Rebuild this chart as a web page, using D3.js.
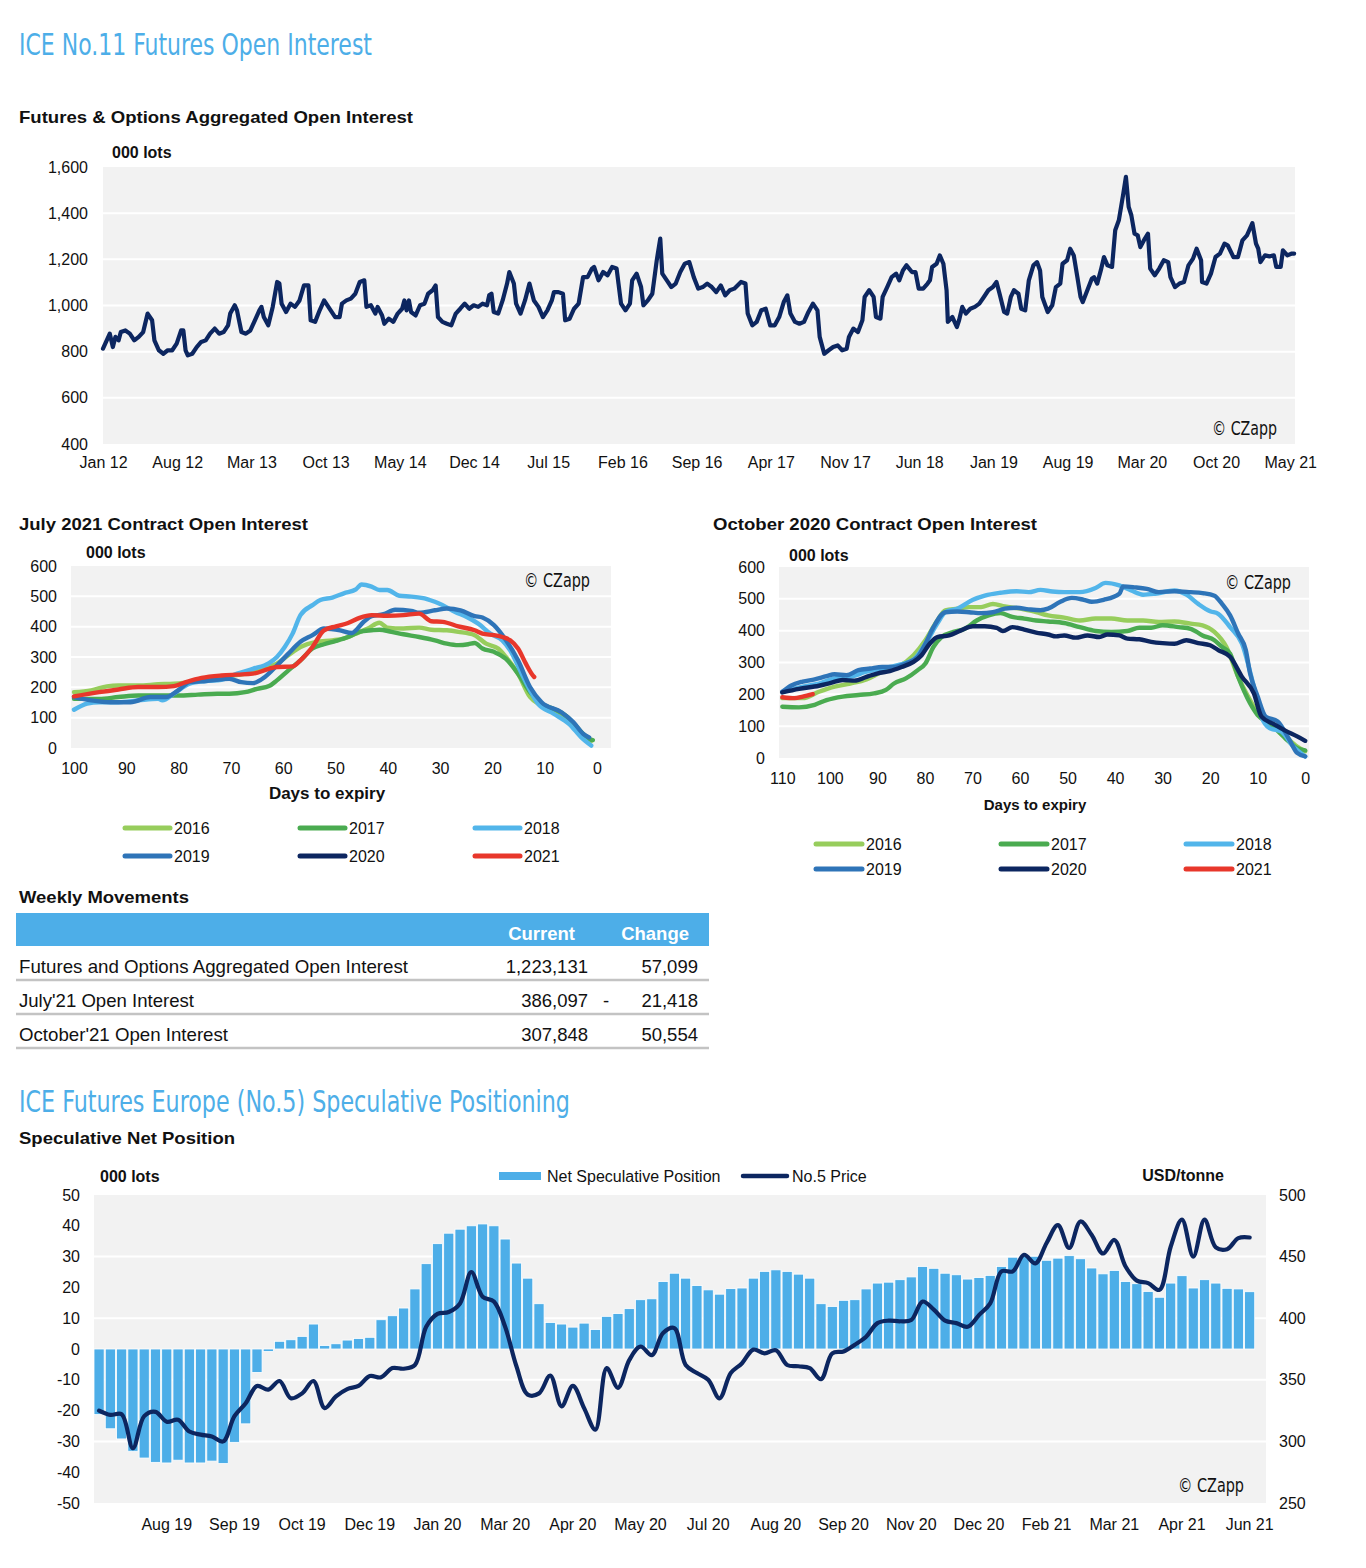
<!DOCTYPE html>
<html>
<head>
<meta charset="utf-8">
<script src="https://cdn.jsdelivr.net/npm/d3@7/dist/d3.min.js"></script>
<style>
html,body{margin:0;padding:0;background:#fff;}
</style>
</head>
<body>
<svg id="chart" width="1366" height="1568" xmlns="http://www.w3.org/2000/svg"></svg>
<script>
// ======================= DATA =======================
// --- Futures & Options Aggregated Open Interest (x = months since Jan 2012, y = 000 lots)
const oiTickMonths = [0,7,14,21,28,35,42,49,56,63,70,77,84,91,98,105,112];
const oiTickLabels = ["Jan 12","Aug 12","Mar 13","Oct 13","May 14","Dec 14","Jul 15","Feb 16","Sep 16","Apr 17","Nov 17","Jun 18","Jan 19","Aug 19","Mar 20","Oct 20","May 21"];
const oiYTicks = [400,600,800,1000,1200,1400,1600];
const oiSeries = [
[0,813],[0.64,878],[0.93,820],[1.17,864],[1.47,849],[1.68,885],[2.11,892],[2.53,878],[2.95,849],[3.37,864],[3.79,885],[4.21,965],[4.63,936],[4.85,849],[5.27,806],[5.69,791],[6.11,806],[6.53,806],[6.95,835],[7.37,892],[7.58,892],[7.79,806],[8.0,784],[8.42,791],[8.84,820],[9.26,842],[9.69,849],[10.1,878],[10.54,900],[10.96,878],[11.38,885],[11.8,914],[12.0,965],[12.43,1001],[12.64,979],[13.06,885],[13.48,878],[13.9,892],[14.33,936],[14.75,979],[14.95,994],[15.17,950],[15.59,914],[16.01,994],[16.43,1102],[16.64,1095],[16.85,1008],[17.27,972],[17.69,1008],[18.11,994],[18.54,1022],[18.96,1087],[19.38,1087],[19.59,936],[20.01,929],[20.44,979],[20.86,1022],[21.48,979],[21.9,950],[22.32,950],[22.54,1008],[22.96,1022],[23.38,1030],[23.8,1051],[24.22,1102],[24.65,1109],[24.85,994],[25.27,1001],[25.69,965],[25.91,994],[26.33,957],[26.54,921],[26.96,943],[27.38,929],[27.8,965],[28.22,986],[28.43,1022],[28.64,979],[28.86,1022],[29.06,972],[29.49,957],[29.91,1001],[30.33,1008],[30.67,1051],[31.09,1066],[31.38,1087],[31.6,950],[32.02,929],[32.44,921],[32.86,914],[33.28,965],[33.7,986],[34.12,1008],[34.54,986],[34.97,1001],[35.39,994],[35.81,1008],[36.23,1001],[36.43,1044],[36.65,1051],[36.86,972],[37.28,965],[37.7,1022],[38.12,1095],[38.33,1145],[38.76,1095],[38.97,1008],[39.39,965],[39.81,1022],[40.23,1095],[40.65,1022],[41.08,994],[41.5,950],[41.92,979],[42.34,1022],[42.54,1058],[42.97,1058],[43.39,1051],[43.6,936],[44.02,943],[44.44,986],[44.87,1008],[45.29,1123],[45.71,1123],[46.13,1160],[46.33,1167],[46.75,1109],[47.18,1145],[47.6,1131],[48.03,1167],[48.45,1160],[48.87,1008],[49.29,979],[49.71,1008],[49.92,1109],[50.34,1138],[50.76,1080],[50.98,1001],[51.4,1022],[51.82,1051],[52.24,1196],[52.57,1290],
[52.76,1138],[53.19,1109],[53.61,1080],[54.03,1095],[54.46,1145],[54.88,1181],[55.31,1188],[55.73,1123],[56.16,1073],[56.58,1080],[57.0,1095],[57.43,1080],[57.85,1058],[58.28,1087],[58.7,1044],[59.13,1066],[59.55,1073],[60.19,1102],[60.61,1095],[60.82,965],[61.25,914],[61.67,929],[62.1,979],[62.52,986],[62.94,914],[63.37,914],[63.79,950],[64.22,1015],[64.56,1044],[64.85,965],[65.28,929],[65.7,921],[66.13,929],[66.55,972],[66.97,1008],[67.4,979],[67.61,864],[68.04,791],[68.46,806],[68.88,820],[69.31,827],[69.73,806],[70.16,813],[70.37,864],[70.79,900],[71.22,885],[71.64,936],[71.85,1037],[72.28,1066],[72.7,1037],[72.92,950],[73.34,943],[73.55,1037],[73.98,1080],[74.4,1123],[74.82,1138],[75.12,1109],[75.46,1152],[75.8,1174],[76.31,1145],[76.65,1145],[76.95,1073],[77.37,1073],[77.79,1095],[78.01,1109],[78.22,1167],[78.64,1181],[78.94,1217],[79.28,1181],[79.58,1066],[79.7,929],[80.13,950],[80.55,907],[80.76,936],[81.06,994],[81.4,965],[81.82,986],[82.25,994],[82.67,1008],[83.1,1037],[83.52,1066],[83.95,1080],[84.29,1102],[84.58,1051],[85.01,972],[85.3,965],[85.64,1037],[85.94,1066],[86.36,1051],[86.62,986],[87.0,979],[87.34,1109],[87.77,1174],[88.11,1188],[88.4,1152],[88.61,1037],[89.12,972],[89.55,1001],[89.89,1080],[90.31,1095],[90.52,1181],[90.95,1196],[91.24,1246],[91.58,1217],[91.92,1123],[92.22,1037],[92.43,1015],[92.86,1066],[93.28,1116],[93.49,1123],[93.79,1095],[94.13,1152],[94.43,1210],[94.76,1174],[95.19,1167],[95.49,1326],[95.83,1369],[96.25,1484],[96.5,1557],[96.76,1427],[97.01,1391],[97.31,1311],[97.61,1304],[97.86,1253],[98.29,1290],[98.58,1311],[98.79,1160],[99.22,1131],[99.64,1160],[100.07,1196],[100.49,1188],[100.7,1123],[101.13,1080],[101.55,1095],[101.98,1102],[102.4,1174],[102.83,1203],[103.17,1246],[103.59,1196],[103.68,1102],[104.1,1095],[104.52,1138],[104.95,1210],[105.37,1225],[105.8,1268],[106.1,1261],[106.64,1210],[107.07,1210],[107.49,1282],[107.92,1304],[108.13,1326],[108.43,1357],[108.77,1268],[108.98,1246],[109.19,1188],[109.62,1217],[110.04,1213],[110.46,1217],[110.68,1167],[111.1,1167],[111.31,1239],[111.73,1217],[112.16,1225],[112.37,1225]
];

// --- Contract open interest by days to expiry ([days, 000 lots])
const years = ["2016","2017","2018","2019","2020","2021"];
const expiryYTicks = [0,100,200,300,400,500,600];
const julyXTicks = [100,90,80,70,60,50,40,30,20,10,0];
const octXTicks = [110,100,90,80,70,60,50,40,30,20,10,0];

const jul2016 = [[100,184],[96.7,190],[93.7,203],[91.5,206],[87.7,206],[83.9,210],[80.9,212],[77.9,217],[74.8,228],[71.8,234],[67.3,245],[64.3,261],[61.2,278],[59.0,306],[56.7,333],[53.7,350],[50.6,355],[48.4,361],[46.1,377],[43.8,394],[41.6,413],[40.1,397],[37.0,394],[34.0,397],[31.7,390],[28.7,388],[26.5,383],[23.4,372],[21.2,344],[18.9,328],[17.4,300],[15.1,245],[12.8,168],[10.6,140],[6.8,101],[3.8,63],[1.1,24]];
const jul2017 = [[100,162],[95.2,162],[91.5,168],[87.7,173],[83.9,173],[80.1,173],[76.3,176],[72.6,179],[70.3,179],[67.3,184],[65.0,195],[62.7,204],[61.2,223],[59.0,256],[56.7,289],[54.4,328],[52.2,342],[49.9,353],[47.6,366],[45.4,383],[43.1,388],[41.6,390],[39.3,383],[37.0,375],[34.0,366],[31.0,355],[28.7,344],[26.5,339],[24.6,342],[23.4,346],[21.9,328],[19.7,317],[17.4,294],[15.1,245],[12.8,184],[10.6,146],[8.3,129],[6.0,107],[3.8,68],[1.5,30],[0.8,26]];
const jul2018 = [[100,126],[97.5,146],[95.2,151],[91.5,151],[87.7,157],[83.9,162],[83.1,157],[80.9,179],[77.9,212],[74.8,221],[71.8,225],[68.8,245],[65.8,261],[62.7,280],[61.2,300],[59.7,333],[58.2,377],[56.7,438],[54.4,471],[52.9,488],[50.6,496],[48.4,510],[46.1,523],[45.0,539],[43.1,532],[41.6,521],[40.1,521],[37.8,502],[35.5,499],[32.5,491],[31.0,482],[29.5,471],[27.2,449],[24.9,432],[22.7,410],[20.4,377],[18.1,355],[16.6,322],[14.4,245],[12.8,190],[11.3,146],[8.3,113],[5.3,79],[3.0,35],[1.1,8]];
const jul2019 = [[100,168],[96.7,157],[93.0,151],[89.2,151],[85.4,168],[82.4,168],[80.1,190],[77.9,217],[74.8,221],[70.3,228],[68.0,217],[65.8,214],[63.5,234],[61.2,272],[59.0,311],[56.7,350],[54.4,372],[52.2,394],[49.1,388],[46.9,379],[44.6,416],[43.1,435],[40.8,441],[38.6,456],[35.5,452],[34.0,446],[31.0,454],[28.7,460],[26.1,454],[23.4,435],[21.9,430],[19.7,405],[17.4,355],[15.1,289],[12.8,201],[10.6,151],[6.8,118],[4.5,85],[2.6,46],[1.5,35]];
const jul2020 = [];
const jul2021 = [[100,170],[95.2,184],[91.5,193],[87.7,201],[83.9,201],[80.9,204],[78.6,217],[75.6,231],[71.8,239],[68.8,242],[65.8,245],[62.7,261],[61.2,267],[58.2,269],[56.7,289],[54.4,333],[52.2,388],[49.9,401],[47.6,412],[45.4,429],[43.1,438],[40.1,436],[37.0,438],[34.0,443],[31.7,418],[29.5,416],[26.5,401],[23.4,388],[21.9,377],[19.7,372],[18.1,366],[16.6,355],[15.1,328],[13.6,278],[12.5,245],[12.0,234]];

const oct2016 = [[110,188],[105.7,188],[102.3,208],[99.0,224],[95.7,234],[92.3,247],[89.0,271],[85.7,286],[82.4,323],[79.9,370],[77.4,432],[75.7,464],[73.2,469],[70.7,474],[68.2,474],[65.7,484],[63.2,476],[59.9,469],[56.6,458],[54.1,448],[50.7,441],[47.4,432],[44.1,438],[40.8,438],[37.4,432],[34.1,432],[30.8,427],[27.5,429],[24.1,422],[21.6,417],[19.1,396],[16.6,349],[14.1,255],[11.6,182],[10.0,141],[7.5,109],[4.2,68],[1.7,36],[0,21]];
const oct2017 = [[110,161],[106.5,159],[103.2,167],[100.7,182],[97.3,193],[94.0,198],[90.7,203],[88.2,214],[86.5,234],[84.0,250],[81.5,276],[79.9,297],[78.2,349],[76.5,380],[74.0,396],[71.6,406],[69.1,432],[66.6,448],[64.1,455],[61.6,443],[59.1,438],[56.6,432],[54.1,429],[50.7,424],[47.4,411],[44.1,399],[40.8,396],[37.4,399],[34.9,409],[32.4,409],[30.0,417],[26.6,411],[24.1,406],[21.6,385],[19.1,370],[17.5,349],[15.8,328],[14.1,255],[11.6,172],[10.0,135],[7.5,109],[4.2,62],[1.7,31],[0,24]];
const oct2018 = [[110,208],[105.7,224],[102.3,234],[99.0,250],[95.7,255],[92.3,271],[89.0,281],[85.7,292],[82.4,309],[79.9,359],[77.4,422],[75.7,458],[73.2,469],[69.9,497],[67.4,510],[64.1,519],[60.7,524],[58.2,521],[55.7,528],[53.2,523],[50.7,521],[47.4,521],[44.1,534],[42.0,550],[39.1,542],[36.6,526],[34.1,513],[31.6,516],[27.5,526],[25.0,513],[22.5,484],[20.0,461],[18.3,453],[15.8,411],[13.3,359],[10.8,224],[9.2,130],[7.5,94],[5.0,83],[2.5,36],[0,5]];
const oct2019 = [[110,208],[108.2,227],[105.7,240],[103.2,247],[100.7,257],[99.0,263],[96.5,260],[94.0,276],[91.5,281],[89.0,286],[86.5,286],[84.0,297],[81.5,318],[79.9,359],[78.2,411],[75.7,458],[73.2,460],[70.7,458],[68.2,455],[65.7,458],[63.2,469],[60.7,472],[58.2,467],[55.7,464],[54.1,469],[51.6,490],[49.1,503],[46.6,497],[44.9,491],[42.4,497],[39.1,516],[38.3,539],[35.8,536],[33.3,531],[30.8,521],[27.5,524],[24.1,521],[21.6,518],[19.1,510],[17.5,484],[15.8,448],[14.1,391],[12.5,339],[11.6,266],[10.0,193],[8.3,130],[5.8,115],[3.3,57],[1.7,16],[0,5]];
const oct2020 = [[110,206],[106.5,217],[102.3,227],[99.8,236],[97.3,245],[94.8,243],[92.3,255],[89.9,266],[87.4,273],[84.9,286],[82.4,302],[80.7,323],[79.0,359],[77.4,380],[74.9,385],[72.4,401],[69.9,414],[67.4,414],[64.9,409],[63.6,399],[61.6,411],[59.1,403],[56.6,394],[54.1,388],[52.4,382],[50.7,385],[48.3,378],[45.8,385],[43.3,380],[41.6,388],[39.1,385],[37.4,375],[34.9,373],[32.4,365],[30.0,361],[27.5,359],[25.0,370],[22.5,361],[20.0,354],[18.3,339],[15.8,318],[13.3,255],[10.8,203],[9.2,130],[6.7,107],[4.2,86],[1.7,68],[0,54]];
const oct2021 = [[110,191],[107.4,188],[105.7,193],[103.6,201]];

// --- Weekly movements table
const tableHeaders = ["Current","Change"];
const tableRows = ["Futures and Options Aggregated Open Interest","July'21 Open Interest","October'21 Open Interest"];
const tableCurrent = ["1,223,131","386,097","307,848"];
const tableSign = ["","-",""];
const tableChange = ["57,099","21,418","50,554"];

// --- Speculative net position (weekly bars, 000 lots) and No.5 price (USD/tonne)
const specLabelIdx = [6,12,18,24,30,36,42,48,54,60,66,72,78,84,90,96,102];
const specLabels = ["Aug 19","Sep 19","Oct 19","Dec 19","Jan 20","Mar 20","Apr 20","May 20","Jul 20","Aug 20","Sep 20","Nov 20","Dec 20","Feb 21","Mar 21","Apr 21","Jun 21"];
const specLeftTicks = [-50,-40,-30,-20,-10,0,10,20,30,40,50];
const specRightTicks = [250,300,350,400,450,500];
const specNet = [-21.3,-25.9,-29.2,-33.2,-35.4,-36.8,-37.0,-36.1,-37.0,-37.0,-36.4,-37.2,-30.3,-24.3,-7.6,-0.8,2.5,3.0,4.1,8.1,1.1,1.7,2.9,3.4,3.8,9.5,10.8,13.3,19.5,27.7,34.2,37.6,38.9,40.0,40.6,40.0,35.7,27.9,23.0,14.7,8.6,8.1,7.1,8.4,6.3,10.6,11.5,13.1,16.0,16.3,21.9,24.6,23.0,20.6,19.2,17.8,19.6,19.8,23.0,25.2,25.7,25.2,24.3,23.0,14.7,13.8,15.8,16.0,19.5,21.4,21.7,22.5,23.4,26.8,26.2,24.6,24.1,22.7,23.2,23.9,26.8,29.8,30.1,30.1,28.8,29.5,30.3,29.3,26.3,24.4,25.5,21.9,21.2,18.7,16.8,21.4,23.8,19.8,22.5,21.4,19.7,19.5,18.6,null];
const specPrice = [325,321.5,322,294.5,320.5,324,316,317.5,308,305.5,304,300,320.5,331,345,342,349,335,339,349,327,336.5,342.5,345,353,352,359.5,359,362,393,403.5,405,412,437.5,417.5,413.5,393,361,338,339,353.5,328.5,345,327,309.5,359.5,343.5,366,377,370,388,392,362,355.5,350,335,355.5,363.5,374.5,371.5,374,362,361,359.5,350.5,371.5,373,378.5,385,396,398,397.5,398.5,413.5,407,398,396,393,402.5,412,438,438,451.5,444.5,461,475.5,457,478.5,467.5,452.5,463.5,442,430.5,428.5,423,458,480,450,480,457.5,456,465,465.5,null];

// ======================= STYLE =======================
const FONT = '"Liberation Sans", Arial, Helvetica, sans-serif';
const NARROW = '"Liberation Sans Narrow", "Arial Narrow", "DejaVu Sans Condensed", "Liberation Sans", sans-serif';
const INK = "#111111";
const BG = "#f2f2f2";
const NAVY = "#0c2660";
const SKY = "#4daee8";
const yearColors = {"2016":"#97cd5c","2017":"#4aab50","2018":"#52b5ea","2019":"#2e74b8","2020":"#0c2660","2021":"#e8372b"};
const hyphenFmt = d => (d < 0 ? "-" + Math.abs(d) : String(d));

const svg = d3.select("#chart");

function text(x, y, str, o = {}) {
  const t = svg.append("text").attr("x", x).attr("y", y).text(str)
    .attr("font-family", o.family || FONT)
    .attr("font-size", o.size || 16)
    .attr("font-weight", o.weight || "normal")
    .attr("fill", o.fill || INK)
    .attr("text-anchor", o.anchor || "start");
  if (o.len) t.attr("textLength", o.len).attr("lengthAdjust", "spacingAndGlyphs");
  return t;
}
function styleAxis(g, size) {
  g.select(".domain").remove();
  g.selectAll(".tick line").remove();
  g.selectAll("text").attr("font-family", FONT).attr("font-size", size).attr("fill", INK);
}
function plotBg(xs, ys) {
  const [x0, x1] = xs.range(); const [y0, y1] = ys.range();
  svg.append("rect").attr("x", Math.min(x0, x1)).attr("y", Math.min(y0, y1))
    .attr("width", Math.abs(x1 - x0)).attr("height", Math.abs(y1 - y0)).attr("fill", BG);
}
function hGrid(xs, ys, vals) {
  const [x0, x1] = xs.range();
  svg.append("g").selectAll("line").data(vals).join("line")
    .attr("x1", x0).attr("x2", x1).attr("y1", d => ys(d)).attr("y2", d => ys(d))
    .attr("stroke", "#ffffff").attr("stroke-width", 2);
}

// ======================= HEADINGS =======================
text(19, 55, "ICE No.11 Futures Open Interest", {family: NARROW, size: 30, fill: SKY, len: 353});
text(19, 123, "Futures & Options Aggregated Open Interest", {size: 17, weight: "bold", len: 394});

// ======================= TOP CHART =======================
{
  const x = d3.scaleLinear().domain([0, 112.45]).range([103, 1295]);
  const y = d3.scaleLinear().domain([400, 1600]).range([444, 167]);
  plotBg(x, y);
  hGrid(x, y, oiYTicks.slice(1, -1));
  svg.append("g").attr("transform", "translate(103,0)")
    .call(d3.axisLeft(y).tickValues(oiYTicks).tickFormat(d3.format(",")).tickSize(0).tickPadding(15))
    .call(styleAxis, 16);
  svg.append("g").attr("transform", "translate(0,444)")
    .call(d3.axisBottom(x).tickValues(oiTickMonths).tickFormat((d, i) => oiTickLabels[i]).tickSize(0).tickPadding(13))
    .call(styleAxis, 16);
  svg.append("path").datum(oiSeries)
    .attr("d", d3.line().x(d => x(d[0])).y(d => y(d[1])))
    .attr("fill", "none").attr("stroke", NAVY).attr("stroke-width", 4.2)
    .attr("stroke-linejoin", "round").attr("stroke-linecap", "round");
  text(112, 158, "000 lots", {size: 16, weight: "bold"});
  text(1277, 435, "\u00A9 CZapp", {family: NARROW, size: 19, anchor: "end", len: 65});
}

// ======================= EXPIRY PANELS =======================
function expiryPanel(c) {
  const x = d3.scaleLinear().domain(c.xDomain).range([c.left, c.right]);
  const y = d3.scaleLinear().domain([0, 600]).range([c.bottom, c.top]);
  plotBg(x, y);
  hGrid(x, y, expiryYTicks.filter(v => v > 0 && v < 600));
  svg.append("g").attr("transform", `translate(${c.left},0)`)
    .call(d3.axisLeft(y).tickValues(expiryYTicks).tickSize(0).tickPadding(14))
    .call(styleAxis, 16);
  svg.append("g").attr("transform", `translate(0,${c.bottom})`)
    .call(d3.axisBottom(x).tickValues(c.xTicks).tickSize(0).tickPadding(15))
    .call(styleAxis, 16);
  const line = d3.line().x(d => x(d[0])).y(d => y(d[1])).curve(d3.curveMonotoneX);
  c.order.forEach(yr => {
    const data = c.series[yr];
    if (!data || !data.length) return;
    svg.append("path").datum(data).attr("d", line)
      .attr("fill", "none").attr("stroke", yearColors[yr]).attr("stroke-width", 4.4)
      .attr("stroke-linejoin", "round").attr("stroke-linecap", "round");
  });
  text(c.title[0], c.title[1], c.title[2], {size: 17, weight: "bold", len: c.title[3]});
  text(c.lots[0], c.lots[1], "000 lots", {size: 16, weight: "bold"});
  text(c.cz[0], c.cz[1], "\u00A9 CZapp", {family: NARROW, size: 19, anchor: "end", len: 66});
  text(c.xl[0], c.xl[1], "Days to expiry", {size: c.xl[2], weight: "bold", anchor: "middle"});
  years.forEach((yr, i) => {
    const col = i % 3, row = Math.floor(i / 3);
    const sx = c.leg.x[col], sy = c.leg.y[row];
    svg.append("line").attr("x1", sx).attr("x2", sx + c.leg.w).attr("y1", sy).attr("y2", sy)
      .attr("stroke", yearColors[yr]).attr("stroke-width", 5).attr("stroke-linecap", "round");
    text(sx + c.leg.w + 4, sy + 6, yr, {size: 16});
  });
}

expiryPanel({
  xDomain: [100.57, -2.68], left: 71, right: 611, top: 566, bottom: 748,
  xTicks: julyXTicks,
  series: {"2016": jul2016, "2017": jul2017, "2018": jul2018, "2019": jul2019, "2020": jul2020, "2021": jul2021},
  order: ["2016","2017","2018","2019","2020","2021"],
  title: [19, 530, "July 2021 Contract Open Interest", 289],
  lots: [86, 558], cz: [590, 587], xl: [327, 799, 17],
  leg: {x: [125, 300, 475], y: [828, 856], w: 45}
});
expiryPanel({
  xDomain: [110.7, -0.8], left: 779, right: 1309, top: 567, bottom: 758,
  xTicks: octXTicks,
  series: {"2016": oct2016, "2017": oct2017, "2018": oct2018, "2019": oct2019, "2020": oct2020, "2021": oct2021},
  order: ["2016","2017","2018","2019","2020","2021"],
  title: [713, 530, "October 2020 Contract Open Interest", 324],
  lots: [789, 561], cz: [1291, 589], xl: [1035, 810, 15],
  leg: {x: [816, 1001, 1186], y: [844, 869], w: 46}
});

// ======================= TABLE =======================
text(19, 903, "Weekly Movements", {size: 17, weight: "bold", len: 170});
svg.append("rect").attr("x", 16).attr("y", 913).attr("width", 693).attr("height", 33).attr("fill", SKY);
const colRight = [575, 689];
tableHeaders.forEach((h, i) => text(colRight[i], 940, h, {size: 18.5, weight: "bold", fill: "#ffffff", anchor: "end"}));
const rowBase = [973, 1007, 1041];
const rowLine = [980, 1014, 1048];
const rowLen = [389, 175, 209];
tableRows.forEach((r, i) => {
  text(19, rowBase[i], r, {size: 18.5, len: rowLen[i]});
  text(588, rowBase[i], tableCurrent[i], {size: 18.5, anchor: "end"});
  if (tableSign[i]) text(606, rowBase[i], tableSign[i], {size: 18.5, anchor: "middle"});
  text(698, rowBase[i], tableChange[i], {size: 18.5, anchor: "end"});
  svg.append("line").attr("x1", 16).attr("x2", 709).attr("y1", rowLine[i]).attr("y2", rowLine[i])
    .attr("stroke", "#c3c3c3").attr("stroke-width", 2.5);
});

// ======================= SPECULATIVE POSITION =======================
text(19, 1112, "ICE Futures Europe (No.5) Speculative Positioning", {family: NARROW, size: 30, fill: SKY, len: 551});
text(19, 1144, "Speculative Net Position", {size: 17, weight: "bold", len: 216});
{
  const x = d3.scaleBand().domain(d3.range(specNet.length)).range([94, 1266]).paddingInner(0.1).paddingOuter(0);
  const yL = d3.scaleLinear().domain([-50, 50]).range([1503, 1195]);
  const yR = d3.scaleLinear().domain([250, 500]).range([1503, 1195]);
  svg.append("rect").attr("x", 94).attr("y", 1195).attr("width", 1172).attr("height", 308).attr("fill", BG);
  hGrid({range: () => [94, 1266]}, yR, specRightTicks.filter(v => v > 250 && v < 500));
  svg.append("g").attr("transform", "translate(94,0)")
    .call(d3.axisLeft(yL).tickValues(specLeftTicks).tickFormat(hyphenFmt).tickSize(0).tickPadding(14))
    .call(styleAxis, 16);
  svg.append("g").attr("transform", "translate(1266,0)")
    .call(d3.axisRight(yR).tickValues(specRightTicks).tickSize(0).tickPadding(13))
    .call(styleAxis, 16);
  svg.append("g").attr("transform", "translate(0,1503)")
    .call(d3.axisBottom(x).tickValues(specLabelIdx).tickFormat((d, i) => specLabels[i]).tickSize(0).tickPadding(16))
    .call(styleAxis, 16);
  const bars = specNet.map((v, i) => ({i, v})).filter(d => d.v !== null);
  svg.append("g").selectAll("rect").data(bars).join("rect")
    .attr("x", d => x(d.i)).attr("width", x.bandwidth())
    .attr("y", d => yL(Math.max(0, d.v))).attr("height", d => Math.abs(yL(d.v) - yL(0)))
    .attr("fill", SKY).attr("stroke", "#ffffff").attr("stroke-width", 0.8);
  const pts = specPrice.map((v, i) => ({i, v})).filter(d => d.v !== null);
  svg.append("path").datum(pts)
    .attr("d", d3.line().x(d => x(d.i) + x.bandwidth() / 2).y(d => yR(d.v)).curve(d3.curveCatmullRom.alpha(0.5)))
    .attr("fill", "none").attr("stroke", NAVY).attr("stroke-width", 4.2)
    .attr("stroke-linejoin", "round").attr("stroke-linecap", "round");
  text(100, 1182, "000 lots", {size: 16, weight: "bold"});
  text(1224, 1181, "USD/tonne", {size: 16, weight: "bold", anchor: "end"});
  svg.append("rect").attr("x", 499).attr("y", 1172).attr("width", 42).attr("height", 8).attr("fill", SKY);
  text(547, 1182, "Net Speculative Position", {size: 16});
  svg.append("line").attr("x1", 743).attr("x2", 787).attr("y1", 1176).attr("y2", 1176)
    .attr("stroke", NAVY).attr("stroke-width", 4.5).attr("stroke-linecap", "round");
  text(792, 1182, "No.5 Price", {size: 16});
  text(1244, 1492, "\u00A9 CZapp", {family: NARROW, size: 19, anchor: "end", len: 66});
}
</script>
</body>
</html>
